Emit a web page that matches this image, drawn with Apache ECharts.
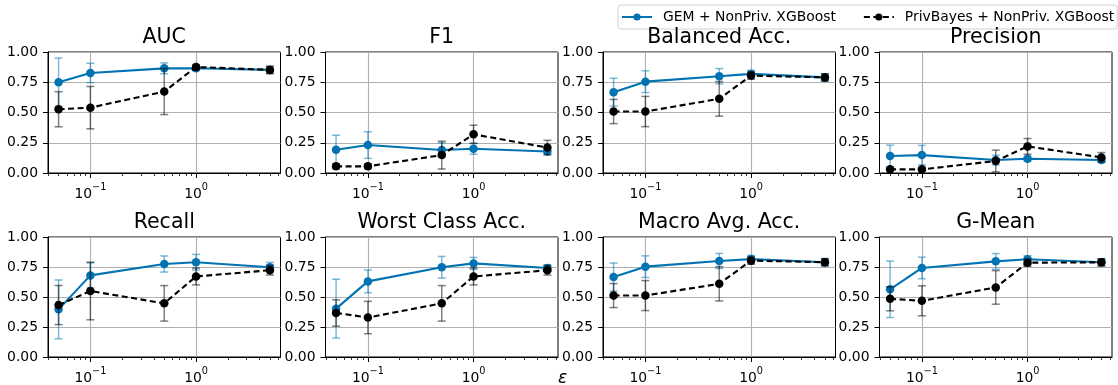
<!DOCTYPE html>
<html>
<head>
<meta charset="utf-8" />
<title>GEM vs PrivBayes</title>
<script src="https://cdn.jsdelivr.net/npm/echarts@6/dist/echarts.min.js"></script>
<style>
  html, body { margin: 0; background: #fff; }
  #chart { width: 1118px; height: 385px; }
</style>
</head>
<body>
<div id="chart"></div>
<script>
// epsilon values (x axis, log)
var eps = [0.05, 0.1, 0.5, 1, 5];
var metrics = ["AUC", "F1", "Balanced Acc.", "Precision",
               "Recall", "Worst Class Acc.", "Macro Avg. Acc.", "G-Mean"];

// one row per metric, one value per epsilon
var gemMean = [
  [0.750, 0.827, 0.865, 0.866, 0.852],
  [0.192, 0.231, 0.190, 0.200, 0.178],
  [0.668, 0.755, 0.800, 0.819, 0.790],
  [0.140, 0.148, 0.107, 0.118, 0.107],
  [0.397, 0.680, 0.775, 0.790, 0.748],
  [0.403, 0.630, 0.748, 0.780, 0.742],
  [0.666, 0.753, 0.800, 0.816, 0.790],
  [0.564, 0.742, 0.797, 0.814, 0.789]
];
var gemErr = [
  [0.200, 0.080, 0.045, 0.020, 0.030],
  [0.120, 0.110, 0.060, 0.045, 0.020],
  [0.115, 0.090, 0.063, 0.030, 0.030],
  [0.090, 0.080, 0.040, 0.020, 0.015],
  [0.245, 0.105, 0.067, 0.065, 0.040],
  [0.245, 0.095, 0.090, 0.050, 0.025],
  [0.117, 0.090, 0.063, 0.030, 0.030],
  [0.235, 0.090, 0.065, 0.030, 0.030]
];
var pbMean = [
  [0.527, 0.540, 0.673, 0.876, 0.852],
  [0.055, 0.055, 0.148, 0.320, 0.210],
  [0.508, 0.508, 0.613, 0.805, 0.790],
  [0.030, 0.030, 0.099, 0.220, 0.129],
  [0.433, 0.550, 0.447, 0.671, 0.723],
  [0.367, 0.329, 0.447, 0.671, 0.723],
  [0.512, 0.512, 0.610, 0.803, 0.790],
  [0.485, 0.468, 0.580, 0.786, 0.789]
];
var pbErr = [
  [0.145, 0.175, 0.190, 0.020, 0.030],
  [0.020, 0.020, 0.115, 0.075, 0.060],
  [0.100, 0.125, 0.143, 0.030, 0.030],
  [0.010, 0.010, 0.090, 0.065, 0.040],
  [0.163, 0.240, 0.148, 0.070, 0.040],
  [0.110, 0.135, 0.148, 0.070, 0.040],
  [0.100, 0.125, 0.143, 0.030, 0.030],
  [0.100, 0.125, 0.140, 0.030, 0.030]
];

var majorTicks = [0.1, 1];
var minorTicks = [0.04, 0.05, 0.06, 0.07, 0.08, 0.09,
                  0.2, 0.3, 0.4, 0.5, 0.6, 0.7, 0.8, 0.9,
                  2, 3, 4, 5, 6];
var gemName = "GEM + NonPriv. XGBoost";
var pbName = "PrivBayes + NonPriv. XGBoost";

var chart = echarts.init(document.getElementById("chart"));

var FONT = "DejaVu Sans";
var BLUE = "#0173b2";
var lefts = [48, 325.5, 603, 879.5];
var tops = [52, 237];
var W = 232.5, H = 121;

function errBars(color) {
  return function (params, api) {
    var x = api.value(0);
    var lo = api.coord([x, api.value(1)]);
    var hi = api.coord([x, api.value(2)]);
    var w = 4;
    var st = { stroke: color, lineWidth: 1.5 };
    return {
      type: "group",
      children: [
        { type: "line", shape: { x1: lo[0], y1: lo[1], x2: hi[0], y2: hi[1] }, style: st },
        { type: "line", shape: { x1: lo[0] - w, y1: lo[1], x2: lo[0] + w, y2: lo[1] }, style: st },
        { type: "line", shape: { x1: hi[0] - w, y1: hi[1], x2: hi[0] + w, y2: hi[1] }, style: st }
      ]
    };
  };
}

function expLabel(v) {
  var e = Math.round(Math.log10(v));
  return "{b|10}{s|" + (e < 0 ? "\u2212" + (-e) : e) + "}";
}

var grids = [], xAxes = [], yAxes = [], series = [], titles = [];

metrics.forEach(function (name, i) {
  var r = Math.floor(i / 4), c = i % 4;
  grids.push({
    left: lefts[c], top: tops[r], width: W, height: H,
    show: true, borderColor: "#000", borderWidth: 1, backgroundColor: "transparent"
  });
  titles.push({
    text: name, left: lefts[c] + W / 2, top: tops[r] - 25, textAlign: "center", padding: 0,
    textStyle: { fontFamily: FONT, fontSize: 20.5, fontWeight: "normal", color: "#000" }
  });
  // major ticks + labels + grid lines
  xAxes.push({
    type: "log", logBase: 10, gridIndex: i, position: "bottom",
    min: 0.0397, max: 6.3,
    axisLine: { show: true, lineStyle: { color: "#000", width: 1 } },
    axisTick: { show: true, length: 5, customValues: majorTicks, lineStyle: { color: "#000", width: 1 } },
    axisLabel: {
      customValues: majorTicks, margin: 9, color: "#000",
      formatter: expLabel,
      rich: {
        b: { fontFamily: FONT, fontSize: 13.9, color: "#000", lineHeight: 19, verticalAlign: "bottom" },
        s: { fontFamily: FONT, fontSize: 9.7, color: "#000", lineHeight: 19, verticalAlign: "top" }
      }
    },
    splitLine: { show: true, lineStyle: { color: "#b0b0b0", width: 1.1 } }
  });
  // minor ticks
  xAxes.push({
    type: "log", logBase: 10, gridIndex: i, position: "bottom",
    min: 0.0397, max: 6.3,
    axisLine: { show: false },
    axisTick: { show: true, length: 3, customValues: minorTicks, lineStyle: { color: "#000", width: 0.8 } },
    axisLabel: { show: false },
    splitLine: { show: false }
  });
  yAxes.push({
    type: "value", gridIndex: i, min: 0, max: 1, interval: 0.25,
    axisLine: { show: true, lineStyle: { color: "#000", width: 1 } },
    axisTick: { show: true, length: 5, lineStyle: { color: "#000", width: 1 } },
    axisLabel: {
      margin: 10, color: "#000", fontFamily: FONT, fontSize: 13.9,
      formatter: function (v) { return v.toFixed(2); }
    },
    splitLine: { show: true, lineStyle: { color: "#b0b0b0", width: 1.1 } }
  });

  var xi = i * 2;
  series.push({
    type: "custom", xAxisIndex: xi, yAxisIndex: i, z: 2, silent: true,
    renderItem: errBars("rgba(1,115,178,0.5)"),
    encode: { x: 0, y: [1, 2] },
    data: eps.map(function (e, j) { return [e, gemMean[i][j] - gemErr[i][j], gemMean[i][j] + gemErr[i][j]]; })
  });
  series.push({
    type: "line", name: gemName, xAxisIndex: xi, yAxisIndex: i, z: 3,
    symbol: "circle", symbolSize: 8.5, color: BLUE,
    lineStyle: { color: BLUE, width: 2.1 },
    itemStyle: { color: BLUE },
    data: eps.map(function (e, j) { return [e, gemMean[i][j]]; })
  });
  series.push({
    type: "custom", xAxisIndex: xi, yAxisIndex: i, z: 4, silent: true,
    renderItem: errBars("rgba(0,0,0,0.5)"),
    encode: { x: 0, y: [1, 2] },
    data: eps.map(function (e, j) { return [e, pbMean[i][j] - pbErr[i][j], pbMean[i][j] + pbErr[i][j]]; })
  });
  series.push({
    type: "line", name: pbName, xAxisIndex: xi, yAxisIndex: i, z: 5,
    symbol: "circle", symbolSize: 8.5, color: "#000",
    lineStyle: { color: "#000", width: 2.1, type: [6, 3.5] },
    itemStyle: { color: "#000" },
    data: eps.map(function (e, j) { return [e, pbMean[i][j]]; })
  });
});

var option = {
  animation: false,
  backgroundColor: "#fff",
  title: titles,
  legend: {
    data: [gemName, pbName],
    orient: "horizontal",
    left: 618, top: 5, width: 496, padding: [5, 3, 5, 3],
    itemWidth: 30, itemHeight: 9, itemGap: 27,
    borderColor: "#d0d0d0", borderWidth: 1, borderRadius: 3,
    textStyle: { fontFamily: FONT, fontSize: 13.9, color: "#000", padding: [0, 0, 0, 6] }
  },
  grid: grids,
  xAxis: xAxes,
  yAxis: yAxes,
  series: series,
  graphic: [{
    type: "text", left: 558, top: 370,
    style: { text: "\u03b5", fontFamily: FONT, fontStyle: "italic", fontSize: 17, fill: "#000" }
  }]
};

chart.setOption(option);
</script>
</body>
</html>
